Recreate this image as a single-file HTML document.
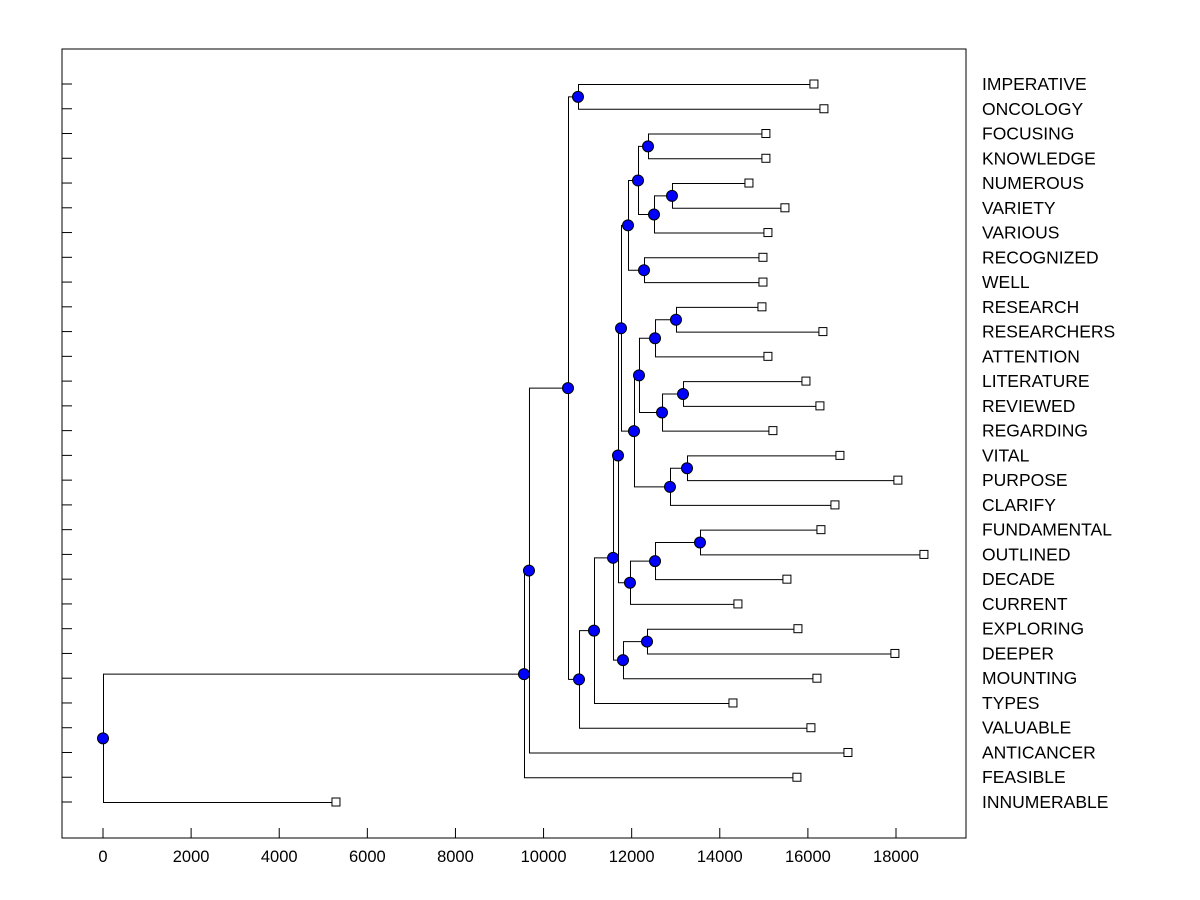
<!DOCTYPE html>
<html><head><meta charset="utf-8"><style>
body{margin:0;background:#fff}
svg{display:block}
text{font-family:"Liberation Sans",Arial,sans-serif;fill:#000}
</style></head><body>
<svg id="chart" width="1200" height="900">
<rect x="62" y="49" width="904" height="789" fill="none" stroke="#000" stroke-width="1"/>
<g id="g"></g>
</svg>
<script>
const leafNames=["IMPERATIVE","ONCOLOGY","FOCUSING","KNOWLEDGE","NUMEROUS","VARIETY","VARIOUS","RECOGNIZED","WELL","RESEARCH","RESEARCHERS","ATTENTION","LITERATURE","REVIEWED","REGARDING","VITAL","PURPOSE","CLARIFY","FUNDAMENTAL","OUTLINED","DECADE","CURRENT","EXPLORING","DEEPER","MOUNTING","TYPES","VALUABLE","ANTICANCER","FEASIBLE","INNUMERABLE"];
const leafValues=[16137,16364,15047,15047,14662,15479,15093,14980,14980,14957,16341,15093,15956,16273,15206,16727,18043,16614,16296,18634,15524,14412,15774,17975,16205,14299,16069,16909,15751,5288];
const mergeLeft=[0,2,4,32,31,7,34,9,37,12,39,38,15,42,41,36,18,46,47,45,22,50,49,52,53,30,55,56,57];
const mergeRight=[1,3,5,6,33,8,35,10,11,13,14,40,16,17,43,44,19,20,21,48,23,24,51,25,26,54,27,28,29];
const mergeHeight=[10782,12371,12915,12507,12144,12280,11917,13006,12530,13165,12689,12166,13256,12870,12053,11758,13551,12530,11962,11690,12348,11803,11577,11145,10805,10555,9669,9556,0];
const xTicks=[0,2000,4000,6000,8000,10000,12000,14000,16000,18000];

const NS="http://www.w3.org/2000/svg";
const g=document.getElementById('g');
const xs=v=>103+v*(793/18000);
const ys=i=>84+i*(718/29);
function mk(t,a){const e=document.createElementNS(NS,t);for(const k in a)e.setAttribute(k,a[k]);g.appendChild(e);return e;}
xTicks.forEach(t=>{
  const l=mk('line',{x1:xs(t),x2:xs(t),y1:828,y2:838,stroke:'#000'});
  
  
  const tx=mk('text',{x:xs(t),y:862,'text-anchor':'middle','font-size':'16.5'});
  tx.textContent=t;
  
  
});
const nodeX=[],nodeY=[];
leafNames.forEach((n,i)=>{
  nodeX[i]=xs(leafValues[i]);nodeY[i]=ys(i);
  const t=mk('line',{x1:62,x2:72,y1:ys(i),y2:ys(i),stroke:'#000'});
  
  
  const tx=mk('text',{x:982,y:ys(i)+6,'font-size':'17.5'});
  tx.textContent=n;
  
  
});
const circles=[];
mergeHeight.forEach((h,k)=>{
  const id=30+k,a=mergeLeft[k],b=mergeRight[k];
  const x=xs(h),y=(nodeY[a]+nodeY[b])/2;
  nodeX[id]=x;nodeY[id]=y;
  const p=mk('path',{d:`M${nodeX[a]},${nodeY[a]+.5}H${x+.5}V${nodeY[b]+.5}H${nodeX[b]}`,fill:'none',stroke:'#000','stroke-width':1});
  
  
  circles.push([x,y]);
});
leafNames.forEach((n,i)=>{
  const r=mk('rect',{x:nodeX[i]-4,y:nodeY[i]-4,width:8,height:8,fill:'#fff',stroke:'#000'});
  
  
});
circles.forEach(([x,y])=>{
  const c=mk('circle',{cx:x,cy:y+.5,r:5.5,fill:'#0000ff',stroke:'#000'});
  
  
});
</script>
</body></html>
